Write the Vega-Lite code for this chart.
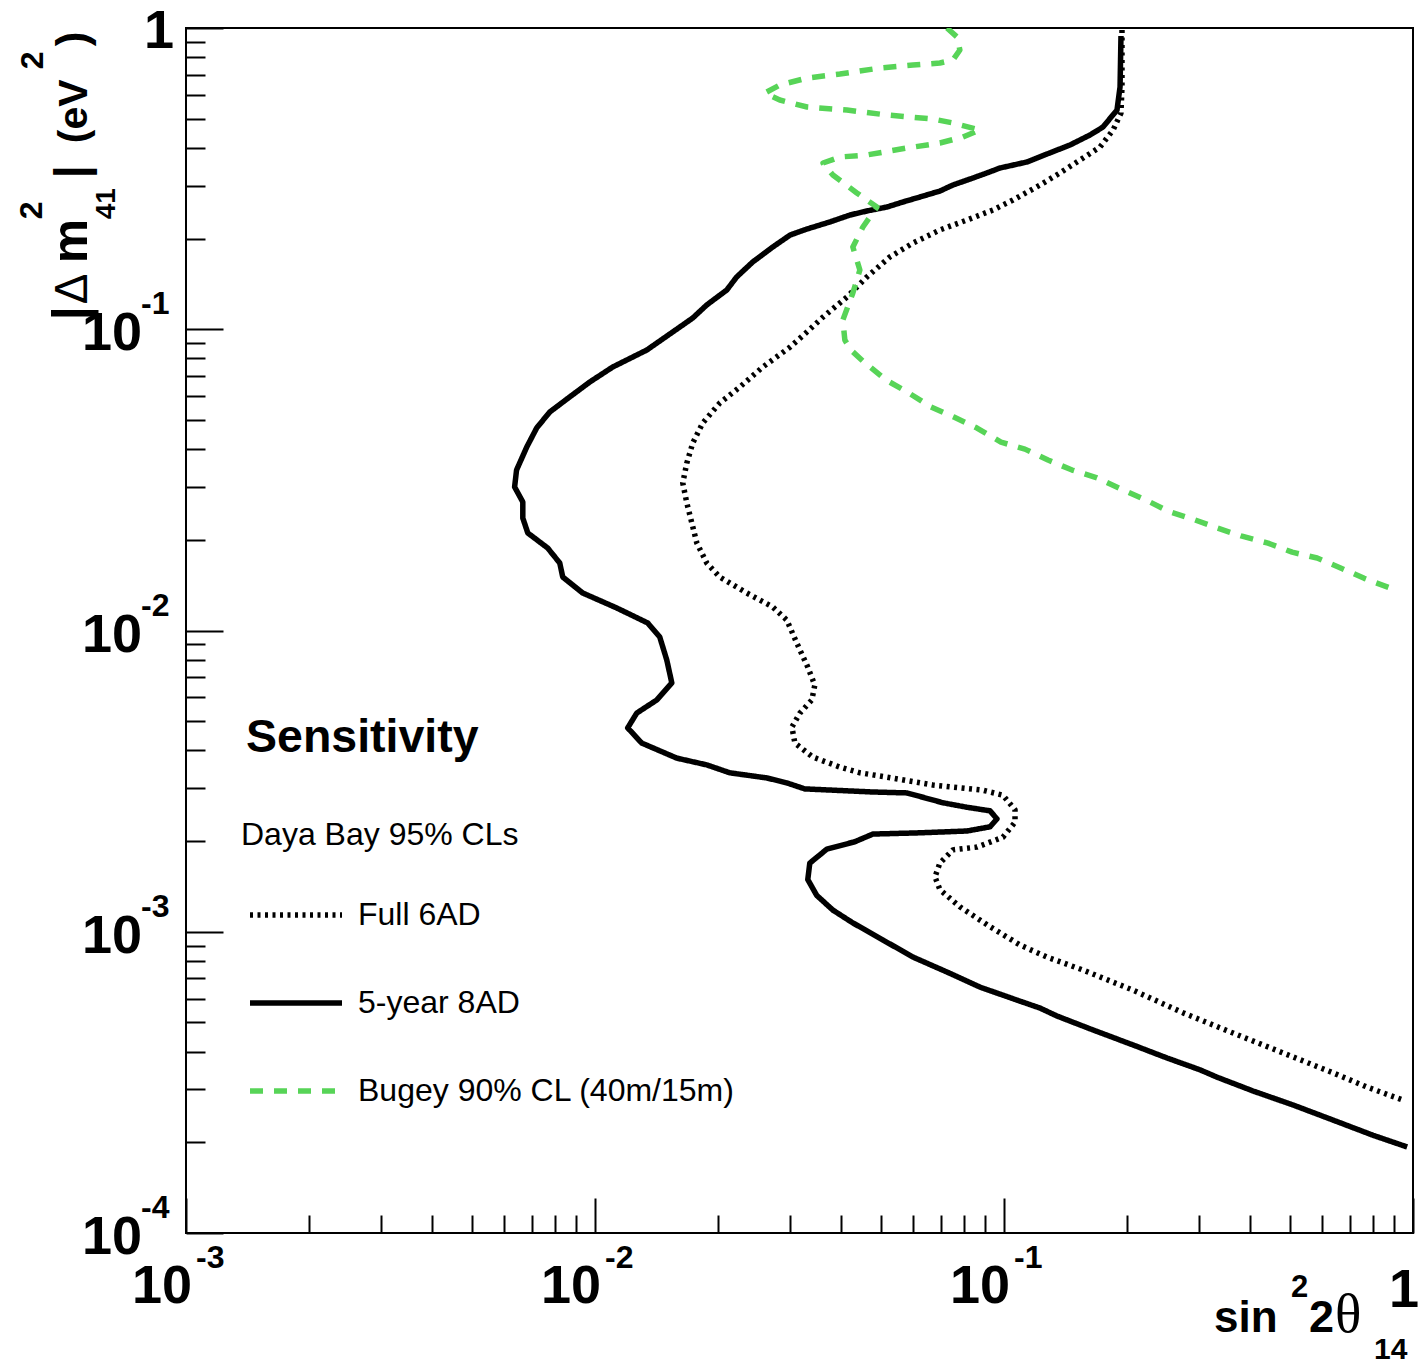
{
  "$schema": "https://vega.github.io/schema/vega-lite/v6.json",
  "width": 1227,
  "height": 1205,
  "autosize": {"type": "none"},
  "padding": {"left": 186, "top": 28, "right": 6, "bottom": 131},
  "background": "white",
  "config": {"view": {"stroke": "black", "strokeWidth": 2}, "font": "Liberation Sans"},
  "datasets": {
    "curves": [
      {"series":"Full 6AD","i":1,"x":0.1943,"y":0.9848},{"series":"Full 6AD","i":2,"x":0.1943,"y":0.637},{"series":"Full 6AD","i":3,"x":0.1932,"y":0.5222},{"series":"Full 6AD","i":4,"x":0.1848,"y":0.4586},{"series":"Full 6AD","i":5,"x":0.1717,"y":0.4027},{"series":"Full 6AD","i":6,"x":0.1534,"y":0.3645},{"series":"Full 6AD","i":7,"x":0.137,"y":0.3302},{"series":"Full 6AD","i":8,"x":0.1225,"y":0.3011},{"series":"Full 6AD","i":9,"x":0.1052,"y":0.2686},{"series":"Full 6AD","i":10,"x":0.094,"y":0.2488},{"series":"Full 6AD","i":11,"x":0.08117,"y":0.2305},{"series":"Full 6AD","i":12,"x":0.0697,"y":0.2136},{"series":"Full 6AD","i":13,"x":0.0599,"y":0.1933},{"series":"Full 6AD","i":14,"x":0.0526,"y":0.1738},{"series":"Full 6AD","i":15,"x":0.0462,"y":0.1491},{"series":"Full 6AD","i":16,"x":0.0413,"y":0.1279},{"series":"Full 6AD","i":17,"x":0.0361,"y":0.1098},{"series":"Full 6AD","i":18,"x":0.03277,"y":0.0972},{"series":"Full 6AD","i":19,"x":0.03,"y":0.0873},{"series":"Full 6AD","i":20,"x":0.02572,"y":0.07493},{"series":"Full 6AD","i":21,"x":0.0226,"y":0.0643},{"series":"Full 6AD","i":22,"x":0.02019,"y":0.0569},{"series":"Full 6AD","i":23,"x":0.01834,"y":0.04884},{"series":"Full 6AD","i":24,"x":0.01734,"y":0.04193},{"series":"Full 6AD","i":25,"x":0.01677,"y":0.03597},{"series":"Full 6AD","i":26,"x":0.01639,"y":0.03088},{"series":"Full 6AD","i":27,"x":0.01677,"y":0.0265},{"series":"Full 6AD","i":28,"x":0.01725,"y":0.02274},{"series":"Full 6AD","i":29,"x":0.01774,"y":0.01952},{"series":"Full 6AD","i":30,"x":0.01876,"y":0.01675},{"series":"Full 6AD","i":31,"x":0.02019,"y":0.01505},{"series":"Full 6AD","i":32,"x":0.0235,"y":0.01332},{"series":"Full 6AD","i":33,"x":0.0272,"y":0.01197},{"series":"Full 6AD","i":34,"x":0.02944,"y":0.01083},{"series":"Full 6AD","i":35,"x":0.03114,"y":0.00909},{"series":"Full 6AD","i":36,"x":0.03313,"y":0.00756},{"series":"Full 6AD","i":37,"x":0.03447,"y":0.00659},{"series":"Full 6AD","i":38,"x":0.0339,"y":0.00588},{"series":"Full 6AD","i":39,"x":0.03169,"y":0.00532},{"series":"Full 6AD","i":40,"x":0.0303,"y":0.00478},{"series":"Full 6AD","i":41,"x":0.03081,"y":0.00423},{"series":"Full 6AD","i":42,"x":0.03409,"y":0.0038},{"series":"Full 6AD","i":43,"x":0.0397,"y":0.00352},{"series":"Full 6AD","i":44,"x":0.04442,"y":0.00337},{"series":"Full 6AD","i":45,"x":0.0517,"y":0.00326},{"series":"Full 6AD","i":46,"x":0.067,"y":0.00307},{"series":"Full 6AD","i":47,"x":0.08882,"y":0.00295},{"series":"Full 6AD","i":48,"x":0.0994,"y":0.00284},{"series":"Full 6AD","i":49,"x":0.1064,"y":0.00254},{"series":"Full 6AD","i":50,"x":0.1064,"y":0.00231},{"series":"Full 6AD","i":51,"x":0.0994,"y":0.00206},{"series":"Full 6AD","i":52,"x":0.0859,"y":0.00191},{"series":"Full 6AD","i":53,"x":0.075,"y":0.00187},{"series":"Full 6AD","i":54,"x":0.0697,"y":0.00169},{"series":"Full 6AD","i":55,"x":0.0678,"y":0.00152},{"series":"Full 6AD","i":56,"x":0.0697,"y":0.00138},{"series":"Full 6AD","i":57,"x":0.078,"y":0.00121},{"series":"Full 6AD","i":58,"x":0.0924,"y":0.00104},{"series":"Full 6AD","i":59,"x":0.1094,"y":0.000904},{"series":"Full 6AD","i":60,"x":0.1274,"y":0.000824},{"series":"Full 6AD","i":61,"x":0.1561,"y":0.000746},{"series":"Full 6AD","i":62,"x":0.2067,"y":0.00064},{"series":"Full 6AD","i":63,"x":0.2741,"y":0.000538},{"series":"Full 6AD","i":64,"x":0.3632,"y":0.000461},{"series":"Full 6AD","i":65,"x":0.4813,"y":0.000396},{"series":"Full 6AD","i":66,"x":0.6378,"y":0.00034},{"series":"Full 6AD","i":67,"x":0.7724,"y":0.000305},{"series":"Full 6AD","i":68,"x":0.9463,"y":0.000276},
      {"series":"5-year 8AD","i":1,"x":0.1932,"y":0.9406},{"series":"5-year 8AD","i":2,"x":0.1922,"y":0.637},{"series":"5-year 8AD","i":3,"x":0.1889,"y":0.5342},{"series":"5-year 8AD","i":4,"x":0.1746,"y":0.4691},{"series":"5-year 8AD","i":5,"x":0.1623,"y":0.4414},{"series":"5-year 8AD","i":6,"x":0.145,"y":0.4089},{"series":"5-year 8AD","i":7,"x":0.1274,"y":0.3817},{"series":"5-year 8AD","i":8,"x":0.1138,"y":0.3591},{"series":"5-year 8AD","i":9,"x":0.0977,"y":0.3429},{"series":"5-year 8AD","i":10,"x":0.0908,"y":0.3302},{"series":"5-year 8AD","i":11,"x":0.084,"y":0.3178},{"series":"5-year 8AD","i":12,"x":0.075,"y":0.3011},{"series":"5-year 8AD","i":13,"x":0.0697,"y":0.2876},{"series":"5-year 8AD","i":14,"x":0.0623,"y":0.2748},{"series":"5-year 8AD","i":15,"x":0.0566,"y":0.2645},{"series":"5-year 8AD","i":16,"x":0.0517,"y":0.2545},{"series":"5-year 8AD","i":17,"x":0.0462,"y":0.2469},{"series":"5-year 8AD","i":18,"x":0.042,"y":0.2394},{"series":"5-year 8AD","i":19,"x":0.0375,"y":0.227},{"series":"5-year 8AD","i":20,"x":0.033,"y":0.2152},{"series":"5-year 8AD","i":21,"x":0.03,"y":0.2055},{"series":"5-year 8AD","i":22,"x":0.0272,"y":0.1875},{"series":"5-year 8AD","i":23,"x":0.0243,"y":0.1672},{"series":"5-year 8AD","i":24,"x":0.0222,"y":0.1491},{"series":"5-year 8AD","i":25,"x":0.021,"y":0.135},{"series":"5-year 8AD","i":26,"x":0.01876,"y":0.1204},{"series":"5-year 8AD","i":27,"x":0.01734,"y":0.109},{"series":"5-year 8AD","i":28,"x":0.01612,"y":0.1017},{"series":"5-year 8AD","i":29,"x":0.01339,"y":0.08533},{"series":"5-year 8AD","i":30,"x":0.01105,"y":0.07493},{"series":"5-year 8AD","i":31,"x":0.00971,"y":0.06681},{"series":"5-year 8AD","i":32,"x":0.00867,"y":0.05958},{"series":"5-year 8AD","i":33,"x":0.00775,"y":0.05312},{"series":"5-year 8AD","i":34,"x":0.0072,"y":0.047},{"series":"5-year 8AD","i":35,"x":0.00681,"y":0.04065},{"series":"5-year 8AD","i":36,"x":0.00643,"y":0.0341},{"series":"5-year 8AD","i":37,"x":0.00636,"y":0.02995},{"series":"5-year 8AD","i":38,"x":0.00666,"y":0.0267},{"series":"5-year 8AD","i":39,"x":0.00666,"y":0.02362},{"series":"5-year 8AD","i":40,"x":0.00685,"y":0.02107},{"series":"5-year 8AD","i":41,"x":0.00766,"y":0.01879},{"series":"5-year 8AD","i":42,"x":0.0082,"y":0.01675},{"series":"5-year 8AD","i":43,"x":0.00834,"y":0.01505},{"series":"5-year 8AD","i":44,"x":0.00933,"y":0.01332},{"series":"5-year 8AD","i":45,"x":0.0113,"y":0.01188},{"series":"5-year 8AD","i":46,"x":0.01346,"y":0.01059},{"series":"5-year 8AD","i":47,"x":0.0144,"y":0.00951},{"series":"5-year 8AD","i":48,"x":0.01498,"y":0.00798},{"series":"5-year 8AD","i":49,"x":0.01541,"y":0.0067},{"series":"5-year 8AD","i":50,"x":0.01416,"y":0.00588},{"series":"5-year 8AD","i":51,"x":0.01265,"y":0.00532},{"series":"5-year 8AD","i":52,"x":0.01202,"y":0.00475},{"series":"5-year 8AD","i":53,"x":0.01301,"y":0.00423},{"series":"5-year 8AD","i":54,"x":0.01585,"y":0.00377},{"series":"5-year 8AD","i":55,"x":0.01876,"y":0.00358},{"series":"5-year 8AD","i":56,"x":0.02136,"y":0.00337},{"series":"5-year 8AD","i":57,"x":0.02631,"y":0.00324},{"series":"5-year 8AD","i":58,"x":0.02944,"y":0.00312},{"series":"5-year 8AD","i":59,"x":0.03258,"y":0.00298},{"series":"5-year 8AD","i":60,"x":0.0478,"y":0.00291},{"series":"5-year 8AD","i":61,"x":0.0579,"y":0.00289},{"series":"5-year 8AD","i":62,"x":0.07092,"y":0.00268},{"series":"5-year 8AD","i":63,"x":0.08117,"y":0.00259},{"series":"5-year 8AD","i":64,"x":0.0924,"y":0.00252},{"series":"5-year 8AD","i":65,"x":0.09612,"y":0.00237},{"series":"5-year 8AD","i":66,"x":0.0924,"y":0.00223},{"series":"5-year 8AD","i":67,"x":0.08117,"y":0.00216},{"series":"5-year 8AD","i":68,"x":0.0623,"y":0.00213},{"series":"5-year 8AD","i":69,"x":0.0478,"y":0.00211},{"series":"5-year 8AD","i":70,"x":0.04318,"y":0.00199},{"series":"5-year 8AD","i":71,"x":0.03688,"y":0.00188},{"series":"5-year 8AD","i":72,"x":0.03351,"y":0.00169},{"series":"5-year 8AD","i":73,"x":0.03313,"y":0.00149},{"series":"5-year 8AD","i":74,"x":0.03485,"y":0.00132},{"series":"5-year 8AD","i":75,"x":0.03816,"y":0.00118},{"series":"5-year 8AD","i":76,"x":0.0427,"y":0.00107},{"series":"5-year 8AD","i":77,"x":0.05058,"y":0.000939},{"series":"5-year 8AD","i":78,"x":0.0599,"y":0.000824},{"series":"5-year 8AD","i":79,"x":0.07254,"y":0.000735},{"series":"5-year 8AD","i":80,"x":0.08735,"y":0.000655},{"series":"5-year 8AD","i":81,"x":0.1076,"y":0.000593},{"series":"5-year 8AD","i":82,"x":0.1225,"y":0.000558},{"series":"5-year 8AD","i":83,"x":0.1348,"y":0.000525},{"series":"5-year 8AD","i":84,"x":0.1651,"y":0.000472},{"series":"5-year 8AD","i":85,"x":0.2067,"y":0.000421},{"series":"5-year 8AD","i":86,"x":0.2504,"y":0.000381},{"series":"5-year 8AD","i":87,"x":0.3016,"y":0.000348},{"series":"5-year 8AD","i":88,"x":0.3319,"y":0.000329},{"series":"5-year 8AD","i":89,"x":0.4065,"y":0.000296},{"series":"5-year 8AD","i":90,"x":0.5092,"y":0.000266},{"series":"5-year 8AD","i":91,"x":0.6378,"y":0.000237},{"series":"5-year 8AD","i":92,"x":0.7989,"y":0.000211},{"series":"5-year 8AD","i":93,"x":0.9678,"y":0.000193},
      {"series":"Bugey 90% CL (40m/15m)","i":1,"x":0.07254,"y":1.0},{"series":"Bugey 90% CL (40m/15m)","i":2,"x":0.07677,"y":0.9335},{"series":"Bugey 90% CL (40m/15m)","i":3,"x":0.078,"y":0.8453},{"series":"Bugey 90% CL (40m/15m)","i":4,"x":0.075,"y":0.783},{"series":"Bugey 90% CL (40m/15m)","i":5,"x":0.0697,"y":0.7651},{"series":"Bugey 90% CL (40m/15m)","i":6,"x":0.0599,"y":0.7535},{"series":"Bugey 90% CL (40m/15m)","i":7,"x":0.04972,"y":0.7365},{"series":"Bugey 90% CL (40m/15m)","i":8,"x":0.0397,"y":0.7034},{"series":"Bugey 90% CL (40m/15m)","i":9,"x":0.033,"y":0.6823},{"series":"Bugey 90% CL (40m/15m)","i":10,"x":0.0283,"y":0.6468},{"series":"Bugey 90% CL (40m/15m)","i":11,"x":0.02602,"y":0.6084},{"series":"Bugey 90% CL (40m/15m)","i":12,"x":0.0283,"y":0.5767},{"series":"Bugey 90% CL (40m/15m)","i":13,"x":0.033,"y":0.5467},{"series":"Bugey 90% CL (40m/15m)","i":14,"x":0.0413,"y":0.5342},{"series":"Bugey 90% CL (40m/15m)","i":15,"x":0.0517,"y":0.5144},{"series":"Bugey 90% CL (40m/15m)","i":16,"x":0.067,"y":0.4989},{"series":"Bugey 90% CL (40m/15m)","i":17,"x":0.075,"y":0.4839},{"series":"Bugey 90% CL (40m/15m)","i":18,"x":0.08735,"y":0.4586},{"series":"Bugey 90% CL (40m/15m)","i":19,"x":0.07936,"y":0.4347},{"series":"Bugey 90% CL (40m/15m)","i":20,"x":0.0697,"y":0.4152},{"series":"Bugey 90% CL (40m/15m)","i":21,"x":0.0579,"y":0.3996},{"series":"Bugey 90% CL (40m/15m)","i":22,"x":0.0462,"y":0.3789},{"series":"Bugey 90% CL (40m/15m)","i":23,"x":0.0397,"y":0.3731},{"series":"Bugey 90% CL (40m/15m)","i":24,"x":0.0361,"y":0.3563},{"series":"Bugey 90% CL (40m/15m)","i":25,"x":0.03816,"y":0.3251},{"series":"Bugey 90% CL (40m/15m)","i":26,"x":0.04367,"y":0.2834},{"series":"Bugey 90% CL (40m/15m)","i":27,"x":0.04889,"y":0.2545},{"series":"Bugey 90% CL (40m/15m)","i":28,"x":0.04519,"y":0.2185},{"series":"Bugey 90% CL (40m/15m)","i":29,"x":0.0427,"y":0.1875},{"series":"Bugey 90% CL (40m/15m)","i":30,"x":0.04442,"y":0.1573},{"series":"Bugey 90% CL (40m/15m)","i":31,"x":0.0427,"y":0.1319},{"series":"Bugey 90% CL (40m/15m)","i":32,"x":0.04036,"y":0.1073},{"series":"Bugey 90% CL (40m/15m)","i":33,"x":0.04082,"y":0.0921},{"series":"Bugey 90% CL (40m/15m)","i":34,"x":0.04223,"y":0.08533},{"series":"Bugey 90% CL (40m/15m)","i":35,"x":0.04544,"y":0.0779},{"series":"Bugey 90% CL (40m/15m)","i":36,"x":0.05142,"y":0.0679},{"series":"Bugey 90% CL (40m/15m)","i":37,"x":0.05856,"y":0.0614},{"series":"Bugey 90% CL (40m/15m)","i":38,"x":0.06628,"y":0.0552},{"series":"Bugey 90% CL (40m/15m)","i":39,"x":0.07543,"y":0.0511},{"series":"Bugey 90% CL (40m/15m)","i":40,"x":0.0859,"y":0.047},{"series":"Bugey 90% CL (40m/15m)","i":41,"x":0.0983,"y":0.0422},{"series":"Bugey 90% CL (40m/15m)","i":42,"x":0.1125,"y":0.04},{"series":"Bugey 90% CL (40m/15m)","i":43,"x":0.1281,"y":0.0368},{"series":"Bugey 90% CL (40m/15m)","i":44,"x":0.1467,"y":0.0341},{"series":"Bugey 90% CL (40m/15m)","i":45,"x":0.1688,"y":0.0321},{"series":"Bugey 90% CL (40m/15m)","i":46,"x":0.1932,"y":0.0295},{"series":"Bugey 90% CL (40m/15m)","i":47,"x":0.2225,"y":0.0271},{"series":"Bugey 90% CL (40m/15m)","i":48,"x":0.2519,"y":0.0249},{"series":"Bugey 90% CL (40m/15m)","i":49,"x":0.29,"y":0.0234},{"series":"Bugey 90% CL (40m/15m)","i":50,"x":0.3319,"y":0.0219},{"series":"Bugey 90% CL (40m/15m)","i":51,"x":0.3799,"y":0.0206},{"series":"Bugey 90% CL (40m/15m)","i":52,"x":0.4422,"y":0.0195},{"series":"Bugey 90% CL (40m/15m)","i":53,"x":0.5064,"y":0.0182},{"series":"Bugey 90% CL (40m/15m)","i":54,"x":0.583,"y":0.0174},{"series":"Bugey 90% CL (40m/15m)","i":55,"x":0.6673,"y":0.0161},{"series":"Bugey 90% CL (40m/15m)","i":56,"x":0.7597,"y":0.0149},{"series":"Bugey 90% CL (40m/15m)","i":57,"x":0.9097,"y":0.0136}
    ],
    "xticks": [{"v": 0.001, "base": "10", "exp": "-3"}, {"v": 0.01, "base": "10", "exp": "-2"}, {"v": 0.1, "base": "10", "exp": "-1"}],
    "yticks": [{"v": 0.0001, "base": "10", "exp": "-4"}, {"v": 0.001, "base": "10", "exp": "-3"}, {"v": 0.01, "base": "10", "exp": "-2"}, {"v": 0.1, "base": "10", "exp": "-1"}]
  },
  "layer": [
    {
      "data": {"name": "curves"},
      "mark": {"type": "line", "strokeWidth": 5.5, "clip": true, "strokeJoin": "round"},
      "encoding": {
        "x": {"field": "x", "type": "quantitative", "scale": {"type": "log", "domain": [0.001, 1]},
          "axis": {"title": null, "labels": false, "domain": false, "grid": false,
            "values": [0.001,0.002,0.003,0.004,0.005,0.006,0.007,0.008,0.009,0.01,0.02,0.03,0.04,0.05,0.06,0.07,0.08,0.09,0.1,0.2,0.3,0.4,0.5,0.6,0.7,0.8,0.9,1],
            "tickColor": "black", "tickWidth": 2,
            "tickSize": {"condition": {"test": "datum.value == 0.001 || datum.value == 0.01 || datum.value == 0.1 || datum.value == 1", "value": -35}, "value": -18}}},
        "y": {"field": "y", "type": "quantitative", "scale": {"type": "log", "domain": [0.0001, 1]},
          "axis": {"title": null, "labels": false, "domain": false, "grid": false,
            "values": [0.0001,0.0002,0.0003,0.0004,0.0005,0.0006,0.0007,0.0008,0.0009,0.001,0.002,0.003,0.004,0.005,0.006,0.007,0.008,0.009,0.01,0.02,0.03,0.04,0.05,0.06,0.07,0.08,0.09,0.1,0.2,0.3,0.4,0.5,0.6,0.7,0.8,0.9,1],
            "tickColor": "black", "tickWidth": 2,
            "tickSize": {"condition": {"test": "datum.value == 0.0001 || datum.value == 0.001 || datum.value == 0.01 || datum.value == 0.1 || datum.value == 1", "value": -37}, "value": -19}}},
        "order": {"field": "i", "type": "quantitative"},
        "color": {"field": "series", "type": "nominal",
          "scale": {"domain": ["Full 6AD", "5-year 8AD", "Bugey 90% CL (40m/15m)"], "range": ["#000000", "#000000", "#57d457"]},
          "legend": {"title": "Daya Bay 95% CLs", "orient": "none", "legendX": 55, "legendY": 792, "padding": 0,
            "symbolType": "stroke", "symbolSize": 8464, "symbolStrokeWidth": 5.5, "symbolOffset": 6,
            "labelFont": "Liberation Sans", "labelFontSize": 32, "labelColor": "black", "labelLimit": 700, "labelOffset": 13,
            "titleFont": "Liberation Sans", "titleFontSize": 32, "titleFontWeight": "normal", "titleColor": "black", "titleBaseline": "top", "titlePadding": 14, "titleLimit": 700,
            "rowPadding": 23}},
        "strokeDash": {"field": "series", "type": "nominal",
          "scale": {"domain": ["Full 6AD", "5-year 8AD", "Bugey 90% CL (40m/15m)"], "range": [[3, 4.5], [1, 0], [13, 11]]},
          "legend": {"title": "Daya Bay 95% CLs", "orient": "none", "legendX": 55, "legendY": 792, "padding": 0,
            "symbolType": "stroke", "symbolSize": 8464, "symbolStrokeWidth": 5.5, "symbolOffset": 6,
            "labelFont": "Liberation Sans", "labelFontSize": 32, "labelColor": "black", "labelLimit": 700, "labelOffset": 13,
            "titleFont": "Liberation Sans", "titleFontSize": 32, "titleFontWeight": "normal", "titleColor": "black", "titleBaseline": "top", "titlePadding": 14, "titleLimit": 700,
            "rowPadding": 23}}
      }
    },
    {
      "data": {"name": "xticks"},
      "mark": {"type": "text", "font": "Liberation Sans", "fontWeight": "bold", "fontSize": 54, "align": "right", "baseline": "alphabetic", "dx": 6, "dy": 70, "color": "black"},
      "encoding": {
        "x": {"field": "v", "type": "quantitative", "scale": {"type": "log", "domain": [0.001, 1]}},
        "y": {"datum": 0.0001, "type": "quantitative", "scale": {"type": "log", "domain": [0.0001, 1]}},
        "text": {"field": "base"}
      }
    },
    {
      "data": {"name": "xticks"},
      "mark": {"type": "text", "font": "Liberation Sans", "fontWeight": "bold", "fontSize": 32, "align": "left", "baseline": "alphabetic", "dx": 10, "dy": 35, "color": "black"},
      "encoding": {
        "x": {"field": "v", "type": "quantitative", "scale": {"type": "log", "domain": [0.001, 1]}},
        "y": {"datum": 0.0001, "type": "quantitative", "scale": {"type": "log", "domain": [0.0001, 1]}},
        "text": {"field": "exp"}
      }
    },
    {
      "data": {"name": "yticks"},
      "mark": {"type": "text", "font": "Liberation Sans", "fontWeight": "bold", "fontSize": 54, "align": "right", "baseline": "alphabetic", "dx": -44, "dy": 21, "color": "black"},
      "encoding": {
        "x": {"datum": 0.001, "type": "quantitative", "scale": {"type": "log", "domain": [0.001, 1]}},
        "y": {"field": "v", "type": "quantitative", "scale": {"type": "log", "domain": [0.0001, 1]}},
        "text": {"field": "base"}
      }
    },
    {
      "data": {"name": "yticks"},
      "mark": {"type": "text", "font": "Liberation Sans", "fontWeight": "bold", "fontSize": 32, "align": "left", "baseline": "alphabetic", "dx": -45, "dy": -15, "color": "black"},
      "encoding": {
        "x": {"datum": 0.001, "type": "quantitative", "scale": {"type": "log", "domain": [0.001, 1]}},
        "y": {"field": "v", "type": "quantitative", "scale": {"type": "log", "domain": [0.0001, 1]}},
        "text": {"field": "exp"}
      }
    },
    {
      "data": {"values": [{}]},
      "mark": {"type": "text", "text": "1", "font": "Liberation Sans", "fontWeight": "bold", "fontSize": 54, "align": "center", "baseline": "alphabetic", "dx": -9, "dy": 74, "color": "black"},
      "encoding": {
        "x": {"datum": 1, "type": "quantitative", "scale": {"type": "log", "domain": [0.001, 1]}},
        "y": {"datum": 0.0001, "type": "quantitative", "scale": {"type": "log", "domain": [0.0001, 1]}}
      }
    },
    {
      "data": {"values": [{}]},
      "mark": {"type": "text", "text": "1", "font": "Liberation Sans", "fontWeight": "bold", "fontSize": 54, "align": "right", "baseline": "alphabetic", "dx": -12, "dy": 20, "color": "black"},
      "encoding": {
        "x": {"datum": 0.001, "type": "quantitative", "scale": {"type": "log", "domain": [0.001, 1]}},
        "y": {"datum": 1, "type": "quantitative", "scale": {"type": "log", "domain": [0.0001, 1]}}
      }
    },
    {
      "data": {"values": [{}]},
      "mark": {"type": "text", "text": "Sensitivity", "font": "Liberation Sans", "fontWeight": "bold", "fontSize": 46.5, "align": "left", "baseline": "alphabetic", "dx": 60, "dy": 121, "color": "black"},
      "encoding": {
        "x": {"datum": 0.001, "type": "quantitative", "scale": {"type": "log", "domain": [0.001, 1]}},
        "y": {"datum": 0.01, "type": "quantitative", "scale": {"type": "log", "domain": [0.0001, 1]}}
      }
    },
    {
      "data": {"values": [{}]},
      "mark": {"type": "text", "text": "sin", "font": "Liberation Sans", "fontWeight": "bold", "fontSize": 44, "align": "left", "baseline": "alphabetic", "dx": -199, "dy": 99, "color": "black"},
      "encoding": {
        "x": {"datum": 1, "type": "quantitative", "scale": {"type": "log", "domain": [0.001, 1]}},
        "y": {"datum": 0.0001, "type": "quantitative", "scale": {"type": "log", "domain": [0.0001, 1]}}
      }
    },
    {
      "data": {"values": [{}]},
      "mark": {"type": "text", "text": "2", "font": "Liberation Sans", "fontWeight": "bold", "fontSize": 31, "align": "left", "baseline": "alphabetic", "dx": -122, "dy": 64, "color": "black"},
      "encoding": {
        "x": {"datum": 1, "type": "quantitative", "scale": {"type": "log", "domain": [0.001, 1]}},
        "y": {"datum": 0.0001, "type": "quantitative", "scale": {"type": "log", "domain": [0.0001, 1]}}
      }
    },
    {
      "data": {"values": [{}]},
      "mark": {"type": "text", "text": "2", "font": "Liberation Sans", "fontWeight": "bold", "fontSize": 45, "align": "left", "baseline": "alphabetic", "dx": -104, "dy": 99, "color": "black"},
      "encoding": {
        "x": {"datum": 1, "type": "quantitative", "scale": {"type": "log", "domain": [0.001, 1]}},
        "y": {"datum": 0.0001, "type": "quantitative", "scale": {"type": "log", "domain": [0.0001, 1]}}
      }
    },
    {
      "data": {"values": [{}]},
      "mark": {"type": "text", "text": "θ", "font": "Liberation Serif", "fontWeight": "normal", "fontSize": 55, "align": "left", "baseline": "alphabetic", "dx": -78, "dy": 99, "color": "black"},
      "encoding": {
        "x": {"datum": 1, "type": "quantitative", "scale": {"type": "log", "domain": [0.001, 1]}},
        "y": {"datum": 0.0001, "type": "quantitative", "scale": {"type": "log", "domain": [0.0001, 1]}}
      }
    },
    {
      "data": {"values": [{}]},
      "mark": {"type": "text", "text": "14", "font": "Liberation Sans", "fontWeight": "bold", "fontSize": 30, "align": "left", "baseline": "alphabetic", "dx": -39, "dy": 126, "color": "black"},
      "encoding": {
        "x": {"datum": 1, "type": "quantitative", "scale": {"type": "log", "domain": [0.001, 1]}},
        "y": {"datum": 0.0001, "type": "quantitative", "scale": {"type": "log", "domain": [0.0001, 1]}}
      }
    },
    {
      "data": {"values": [{}]},
      "mark": {"type": "text", "text": "|", "angle": 270, "font": "Liberation Sans", "fontWeight": "bold", "fontSize": 50, "align": "left", "baseline": "alphabetic", "dx": 9, "dy": -99, "color": "black"},
      "encoding": {
        "x": {"datum": 0.001, "type": "quantitative", "scale": {"type": "log", "domain": [0.001, 1]}},
        "y": {"datum": 0.1, "type": "quantitative", "scale": {"type": "log", "domain": [0.0001, 1]}}
      }
    },
    {
      "data": {"values": [{}]},
      "mark": {"type": "text", "text": "Δ", "angle": 270, "font": "Liberation Sans", "fontWeight": "normal", "fontSize": 46, "align": "left", "baseline": "alphabetic", "dx": 25, "dy": -99, "color": "black"},
      "encoding": {
        "x": {"datum": 0.001, "type": "quantitative", "scale": {"type": "log", "domain": [0.001, 1]}},
        "y": {"datum": 0.1, "type": "quantitative", "scale": {"type": "log", "domain": [0.0001, 1]}}
      }
    },
    {
      "data": {"values": [{}]},
      "mark": {"type": "text", "text": "m", "angle": 270, "font": "Liberation Sans", "fontWeight": "bold", "fontSize": 50, "align": "left", "baseline": "alphabetic", "dx": 66, "dy": -99, "color": "black"},
      "encoding": {
        "x": {"datum": 0.001, "type": "quantitative", "scale": {"type": "log", "domain": [0.001, 1]}},
        "y": {"datum": 0.1, "type": "quantitative", "scale": {"type": "log", "domain": [0.0001, 1]}}
      }
    },
    {
      "data": {"values": [{}]},
      "mark": {"type": "text", "text": "2", "angle": 270, "font": "Liberation Sans", "fontWeight": "bold", "fontSize": 32, "align": "left", "baseline": "alphabetic", "dx": 110, "dy": -144, "color": "black"},
      "encoding": {
        "x": {"datum": 0.001, "type": "quantitative", "scale": {"type": "log", "domain": [0.001, 1]}},
        "y": {"datum": 0.1, "type": "quantitative", "scale": {"type": "log", "domain": [0.0001, 1]}}
      }
    },
    {
      "data": {"values": [{}]},
      "mark": {"type": "text", "text": "41", "angle": 270, "font": "Liberation Sans", "fontWeight": "bold", "fontSize": 28, "align": "left", "baseline": "alphabetic", "dx": 110, "dy": -71, "color": "black"},
      "encoding": {
        "x": {"datum": 0.001, "type": "quantitative", "scale": {"type": "log", "domain": [0.001, 1]}},
        "y": {"datum": 0.1, "type": "quantitative", "scale": {"type": "log", "domain": [0.0001, 1]}}
      }
    },
    {
      "data": {"values": [{}]},
      "mark": {"type": "text", "text": "|", "angle": 270, "font": "Liberation Sans", "fontWeight": "bold", "fontSize": 46, "align": "left", "baseline": "alphabetic", "dx": 151, "dy": -99, "color": "black"},
      "encoding": {
        "x": {"datum": 0.001, "type": "quantitative", "scale": {"type": "log", "domain": [0.001, 1]}},
        "y": {"datum": 0.1, "type": "quantitative", "scale": {"type": "log", "domain": [0.0001, 1]}}
      }
    },
    {
      "data": {"values": [{}]},
      "mark": {"type": "text", "text": "(eV", "angle": 270, "font": "Liberation Sans", "fontWeight": "bold", "fontSize": 41, "align": "left", "baseline": "alphabetic", "dx": 186, "dy": -99, "color": "black"},
      "encoding": {
        "x": {"datum": 0.001, "type": "quantitative", "scale": {"type": "log", "domain": [0.001, 1]}},
        "y": {"datum": 0.1, "type": "quantitative", "scale": {"type": "log", "domain": [0.0001, 1]}}
      }
    },
    {
      "data": {"values": [{}]},
      "mark": {"type": "text", "text": "2", "angle": 270, "font": "Liberation Sans", "fontWeight": "bold", "fontSize": 32, "align": "left", "baseline": "alphabetic", "dx": 260, "dy": -143, "color": "black"},
      "encoding": {
        "x": {"datum": 0.001, "type": "quantitative", "scale": {"type": "log", "domain": [0.001, 1]}},
        "y": {"datum": 0.1, "type": "quantitative", "scale": {"type": "log", "domain": [0.0001, 1]}}
      }
    },
    {
      "data": {"values": [{}]},
      "mark": {"type": "text", "text": ")", "angle": 270, "font": "Liberation Sans", "fontWeight": "bold", "fontSize": 44, "align": "left", "baseline": "alphabetic", "dx": 283, "dy": -99, "color": "black"},
      "encoding": {
        "x": {"datum": 0.001, "type": "quantitative", "scale": {"type": "log", "domain": [0.001, 1]}},
        "y": {"datum": 0.1, "type": "quantitative", "scale": {"type": "log", "domain": [0.0001, 1]}}
      }
    }
  ]
}
